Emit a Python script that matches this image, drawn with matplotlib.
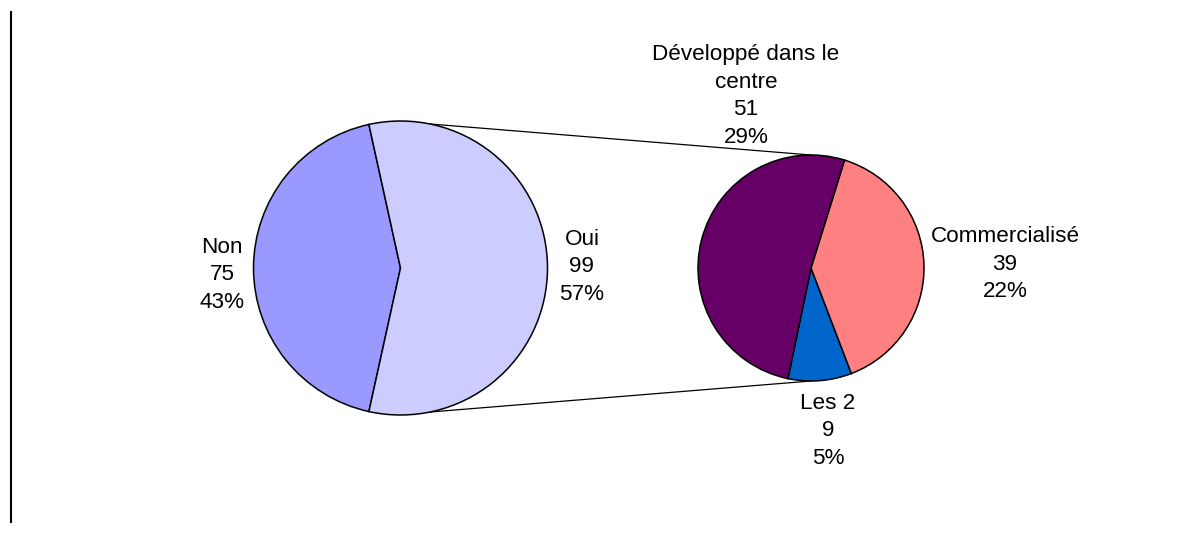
import numpy as np
import matplotlib
matplotlib.use("Agg")
import matplotlib.pyplot as plt
from matplotlib.lines import Line2D

# ---- data ----
main_labels = ["Non", "Oui"]
main_values = [75, 99]
sub_labels = ["Les 2", "Commercialisé", "Développé dans le\ncentre"]
sub_values = [9, 39, 51]

main_colors = ["#9999FF", "#CCCCFF"]
sub_colors = ["#0066CC", "#FF8080", "#660066"]

total = sum(main_values)

W, H = 1189, 534
fig = plt.figure(figsize=(W / 100, H / 100), dpi=100)
ax = fig.add_axes([0, 0, 1, 1])

plt.rcParams["font.family"] = ["Liberation Sans", "DejaVu Sans"]

# layout (pixel-like units, y upward)
c1, r1 = (400.5, 266.0), 147.0
c2, r2 = (811.0, 266.0), 113.0

oui_frac = main_values[1] / total
start1 = 180.0 * oui_frac  # Oui centred at 0 degrees
ax.pie(main_values, colors=main_colors, startangle=start1, counterclock=True,
       center=c1, radius=r1, frame=True,
       wedgeprops=dict(edgecolor="black", linewidth=1.1))

ax.pie(sub_values, colors=sub_colors, startangle=-101.8, counterclock=True,
       center=c2, radius=r2, frame=True,
       wedgeprops=dict(edgecolor="black", linewidth=1.1))

ax.set_xlim(0, W)
ax.set_ylim(0, H)
ax.axis("off")

# connector lines
a = np.deg2rad(78.5)
for s in (1, -1):
    x0 = c1[0] + r1 * np.cos(a)
    y0 = c1[1] + s * r1 * np.sin(a)
    x1 = c2[0]
    y1 = c2[1] + s * r2
    ax.plot([x0, x1], [y0, y1], color="black", lw=0.9, zorder=0.5)

def lab(name, v):
    return f"{name}\n{v}\n{round(v / total * 100)}%"

fs = 16.2
ls = 1.4
label_pos_main = [(222, 534 - 275), (582, 534 - 267)]
for name, v, (x, y) in zip(main_labels, main_values, label_pos_main):
    ax.text(x, y, lab(name, v), ha="center", va="center", fontsize=fs,
            linespacing=ls, color="black")

label_pos_sub = [(828, 534 - 431), (1005, 534 - 264), (746, 534 - 96)]
for name, v, (x, y) in zip(sub_labels, sub_values, label_pos_sub):
    ax.text(x, y, lab(name, v), ha="center", va="center", fontsize=fs,
            linespacing=ls, color="black")

# left border line
fig.add_artist(Line2D([10.5 / W, 10.5 / W], [1 - 12 / H, 1 - 522 / H],
                      transform=fig.transFigure, color="black", lw=1.5))

fig.savefig("out.png", dpi=100, facecolor="white")
